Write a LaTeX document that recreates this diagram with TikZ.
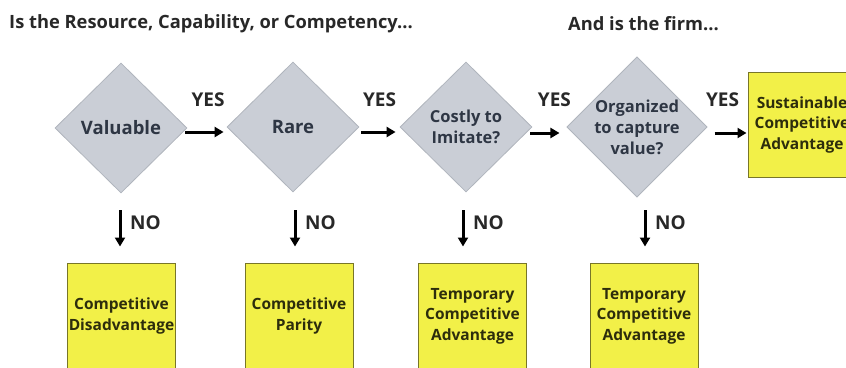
\documentclass[tikz,border=0pt]{standalone}
\usepackage{fontspec}
\setmainfont{Open Sans}
\IfFontExistsTF{Open Sans ExtraBold}
  {\newfontfamily\heavy{Open Sans ExtraBold}}
  {\newcommand\heavy{\bfseries}}
\usetikzlibrary{shapes.geometric,arrows.meta}

\definecolor{dfill}{RGB}{202,206,214}
\definecolor{dline}{RGB}{176,181,189}
\definecolor{dtext}{RGB}{46,54,68}
\definecolor{yfill}{RGB}{242,240,72}
\definecolor{yline}{RGB}{120,118,40}
\definecolor{ytext}{RGB}{45,45,12}
\definecolor{headtext}{RGB}{40,40,40}

\begin{document}
\begin{tikzpicture}[x=1pt,y=-1pt,
  decision/.style={diamond, draw=dline, fill=dfill, line width=0.8pt,
    minimum width=132pt, minimum height=130pt, inner sep=0pt, align=center,
    text=dtext, font=\heavy\fontsize{16.5}{21}\selectfont},
  bigword/.style={font=\heavy\fontsize{18.5}{21}\selectfont},
  outcome/.style={rectangle, draw=yline, fill=yfill, line width=1pt,
    minimum width=108pt, minimum height=106pt, inner sep=0pt, align=center,
    text=ytext, font=\heavy\fontsize{15.5}{20.5}\selectfont},
  arr/.style={line width=3pt, -{Triangle[length=9pt,width=10pt]}},
  lbl/.style={font=\heavy\fontsize{19}{21}\selectfont, text=headtext, inner sep=0pt},
  head/.style={font=\heavy\fontsize{18.3}{20}\selectfont, text=headtext, inner sep=0pt, anchor=west}
]
\useasboundingbox (0,0) rectangle (846,367);
\clip (0,0) rectangle (846,367);

% headings
\node[head] (h1) at (9,24) {Is the Resource, Capability, or Competency...};
\node[head] (h2) at (568,24) {And is the firm...};

% VRIO questions
\node[decision, bigword] (val) at (121,128) {Valuable};
\node[decision, bigword] (rare) at (293,127) {Rare};
\node[decision] (cost) at (466,127) {Costly to\\Imitate?};
\node[decision] (org) at (637,127) {Organized\\to capture\\value?};

% outcomes
\node[outcome, minimum height=105pt] (sca) at (802,124.5) {Sustainable\\Competitive\\Advantage};
\node[outcome] (dis) at (121.5,316) {Competitive\\Disadvantage};
\node[outcome] (par) at (299,316) {Competitive\\Parity};
\node[outcome] (tca1) at (472.5,316) {Temporary\\Competitive\\Advantage};
\node[outcome] (tca2) at (644,316) {Temporary\\Competitive\\Advantage};

% YES connectors
\draw[arr, shorten <=-2pt, shorten >=3pt] ([yshift=-4pt]val.east) -- node[lbl, xshift=1pt, yshift=32pt] {YES} ([yshift=-4pt]val.east -| rare.west);
\draw[arr, shorten <=2pt, shorten >=4pt] ([yshift=-5pt]rare.east) -- node[lbl, yshift=32pt] {YES} ([yshift=-5pt]rare.east -| cost.west);
\draw[arr, shorten <=-2pt, shorten >=7pt] ([yshift=-6pt]cost.east) -- node[lbl, xshift=5pt, yshift=33pt] {YES} ([yshift=-6pt]cost.east -| org.west);
\draw[arr, shorten <=7pt, shorten >=1pt] ([yshift=-6pt]org.east) -- node[lbl, xshift=-5pt, yshift=33pt] {YES} ([yshift=-6pt]org.east -| sca.west);

% NO connectors
\coordinate (n1) at (120,210);
\coordinate (n2) at (295,210);
\coordinate (n3) at (463,210);
\coordinate (n4) at (645,210);
\draw[arr, shorten >=16pt] (n1) -- (n1 |- dis.north);
\draw[arr, shorten >=16pt] (n2) -- (n2 |- par.north);
\draw[arr, shorten >=16pt] (n3) -- (n3 |- tca1.north);
\draw[arr, shorten >=16pt] (n4) -- (n4 |- tca2.north);
\node[lbl, anchor=west] (no1) at ([xshift=10pt,yshift=-13pt]n1) {NO};
\node[lbl, anchor=west] (no2) at ([xshift=10pt,yshift=-13pt]n2) {NO};
\node[lbl, anchor=west] (no3) at ([xshift=10pt,yshift=-13pt]n3) {NO};
\node[lbl, anchor=west] (no4) at ([xshift=10pt,yshift=-13pt]n4) {NO};
\end{tikzpicture}
\end{document}
